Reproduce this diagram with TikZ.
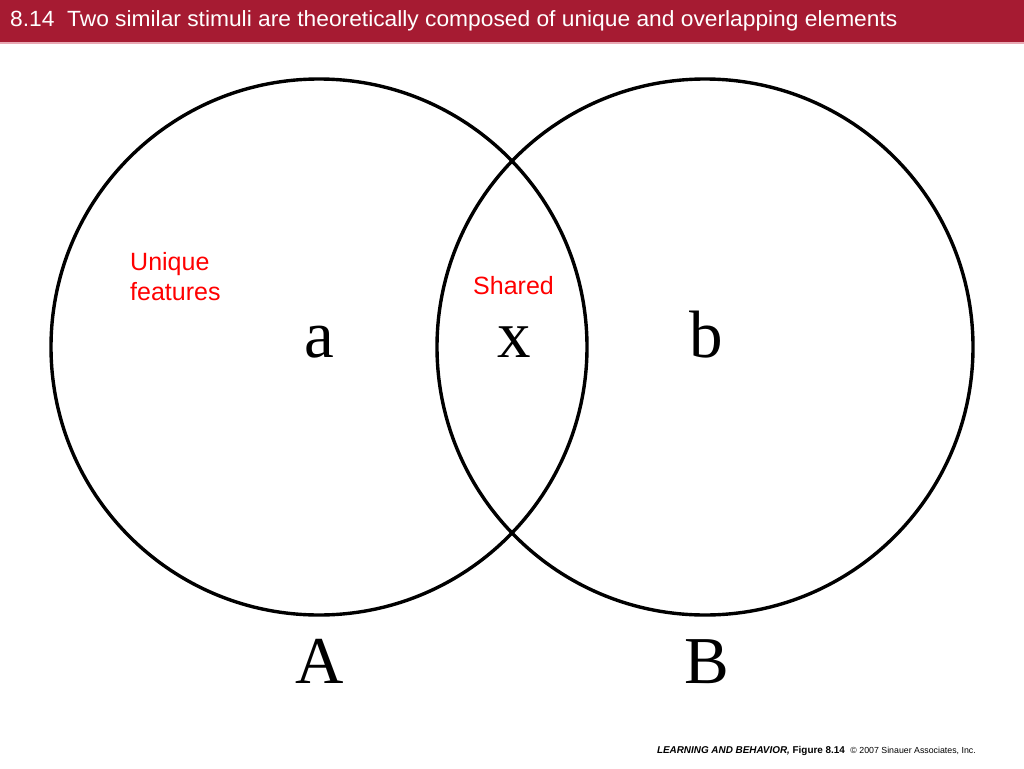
\documentclass[tikz,border=0pt]{standalone}
\usepackage{fontspec}
\setmainfont{Liberation Serif}
\setsansfont{Liberation Sans}
\definecolor{barred}{HTML}{A61B32}
\definecolor{barline}{HTML}{E8A9B4}
\definecolor{labred}{HTML}{FF0000}
\tikzset{
  ring/.style={draw=black, line width=3.4pt},
  bigletter/.style={font=\fontsize{67}{67}\selectfont, inner sep=0pt, anchor=base},
  redlabel/.style={text=labred, font=\sffamily\fontsize{25}{30}\selectfont, inner sep=0pt, align=left},
}
\begin{document}
\begin{tikzpicture}[x=1pt,y=-1pt]
\useasboundingbox (0,0) rectangle (1024,768);
\fill[white] (0,0) rectangle (1024,768);
\fill[barred] (0,0) rectangle (1024,42);
\fill[barline] (0,42) rectangle (1024,44);
\node[anchor=base west, inner sep=0pt, text=white, font=\sffamily\fontsize{22}{22}\selectfont] (title) at (10,27)
  {\scalebox{1.035}[1]{8.14\ \ Two similar stimuli are theoretically composed of unique and overlapping elements}};
\node[ring, circle, minimum size=536pt, inner sep=0pt] (A) at (319,347) {};
\node[ring, circle, minimum size=536pt, inner sep=0pt] (B) at (705,347) {};
\node[bigletter] (la) at (319,357) {a};
\node[bigletter] (lx) at (514,357) {x};
\node[bigletter] (lb) at (706,357) {b};
\node[bigletter] (lA) at (320,683) {A};
\node[bigletter] (lB) at (707,683) {B};
\node[redlabel, anchor=base west] (uniq) at (130,300) {Unique\\features};
\node[redlabel, anchor=base west] (shared) at (473,294) {Shared};
\node[anchor=base east, inner sep=0pt, font=\sffamily\fontsize{9.9}{9.9}\selectfont] (credit) at (976,753)
  {\textbf{\textit{LEARNING AND BEHAVIOR,}} \textbf{Figure 8.14}\ \ {\fontsize{8.8}{8.8}\selectfont\textcopyright\ 2007 Sinauer Associates, Inc.}};
\end{tikzpicture}
\end{document}
